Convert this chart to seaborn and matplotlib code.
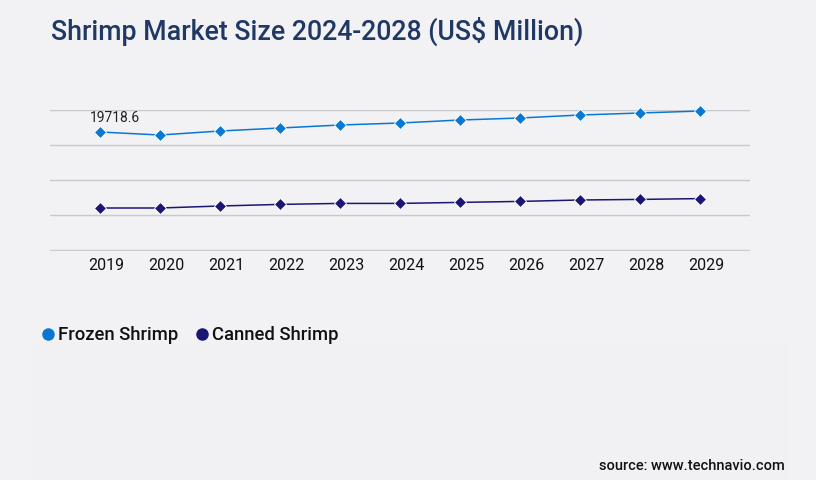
import numpy as np
import pandas as pd
import seaborn as sns
import matplotlib.pyplot as plt
from matplotlib.lines import Line2D
from matplotlib.patches import Rectangle
import matplotlib.transforms as mtransforms

# Values (US$ million)
years = [2019, 2020, 2021, 2022, 2023, 2024, 2025, 2026, 2027, 2028, 2029]
frozen_shrimp = [19718.6, 19217, 19885, 20386, 20888, 21222, 21723, 22057, 22559, 22893, 23227]
canned_shrimp = [7018, 7018, 7352, 7620, 7787, 7787, 7954, 8121, 8355, 8455, 8589]
series_names = ["Frozen Shrimp", "Canned Shrimp"]
colors = ["#0a78d2", "#1c1673"]
grid_step = 5849

df = pd.DataFrame({
    "year": years * 2,
    "value": frozen_shrimp + canned_shrimp,
    "series": [series_names[0]] * len(years) + [series_names[1]] * len(years),
})

sns.set_theme(style="white")
plt.rcParams['font.family'] = ['Roboto', 'DejaVu Sans']

bg = "#f2f2f4"
fig = plt.figure(figsize=(8.16, 4.8), dpi=100, facecolor=bg)

# slightly lighter panel behind the legend / source area
fig.patches.append(Rectangle((32 / 816, 0), 757 / 816, 1 - 342 / 480,
                             transform=fig.transFigure, facecolor="#f1f1f3",
                             edgecolor="none", zorder=0))

ax = fig.add_axes([50 / 816, 1 - 251 / 480, 700 / 816, 141 / 480])
ax.set_facecolor("none")

sns.lineplot(data=df, x="year", y="value", hue="series", palette=colors,
             style="series", markers=["D", "D"], dashes=False,
             markersize=6.3, markeredgewidth=0.6, linewidth=1.1,
             legend=False, ax=ax, clip_on=False)

ax.set_xlim(2019 - 50 / 60, 2029 + 50 / 60)
ax.set_ylim(-grid_step / 35, grid_step * 4)
ax.set_yticks([grid_step * i for i in range(5)])
ax.set_yticklabels([])
ax.yaxis.grid(True, color="#c9c9cc", linewidth=1.0)
ax.xaxis.grid(False)
ax.set_xticks(years)
ax.set_xticklabels([str(y) for y in years], fontsize=11.5, color="#111111")
ax.tick_params(axis="both", length=0)
ax.tick_params(axis="x", pad=5)
offset = mtransforms.ScaledTranslation(6 / 100, 0, fig.dpi_scale_trans)
for lab in ax.get_xticklabels():
    lab.set_transform(lab.get_transform() + offset)
ax.set_xlabel("")
ax.set_ylabel("")
for s in ax.spines.values():
    s.set_visible(False)

# data label on the first point
ax.annotate(f"{frozen_shrimp[0]}", xy=(years[0], frozen_shrimp[0]),
            xytext=(-10, 10), textcoords="offset pixels", ha="left", va="baseline",
            fontsize=10, color="#222222")

fig.text(51 / 816, 1 - 40 / 480, "Shrimp Market Size 2024-2028 (US$ Million)",
         fontsize=19.3, fontweight="medium", color="#1f3864", va="baseline", ha="left")

handles = [Line2D([0], [0], marker="o", linestyle="none", markersize=8,
                  markerfacecolor=c, markeredgecolor=c) for c in colors]
fig.legend(handles, series_names, loc="center left",
           bbox_to_anchor=(22 / 816, 1 - 335 / 480), ncol=2, frameon=False,
           handletextpad=0.05, columnspacing=0.8, handlelength=1.0,
           prop={"size": 13.3, "weight": "medium"}, labelcolor="#111111")

fig.text(785 / 816, 1 - 470 / 480, "source: www.technavio.com", fontsize=10.5,
         fontweight="medium", color="#111111", ha="right", va="baseline")

fig.savefig("out.png", dpi=100, facecolor=bg)
